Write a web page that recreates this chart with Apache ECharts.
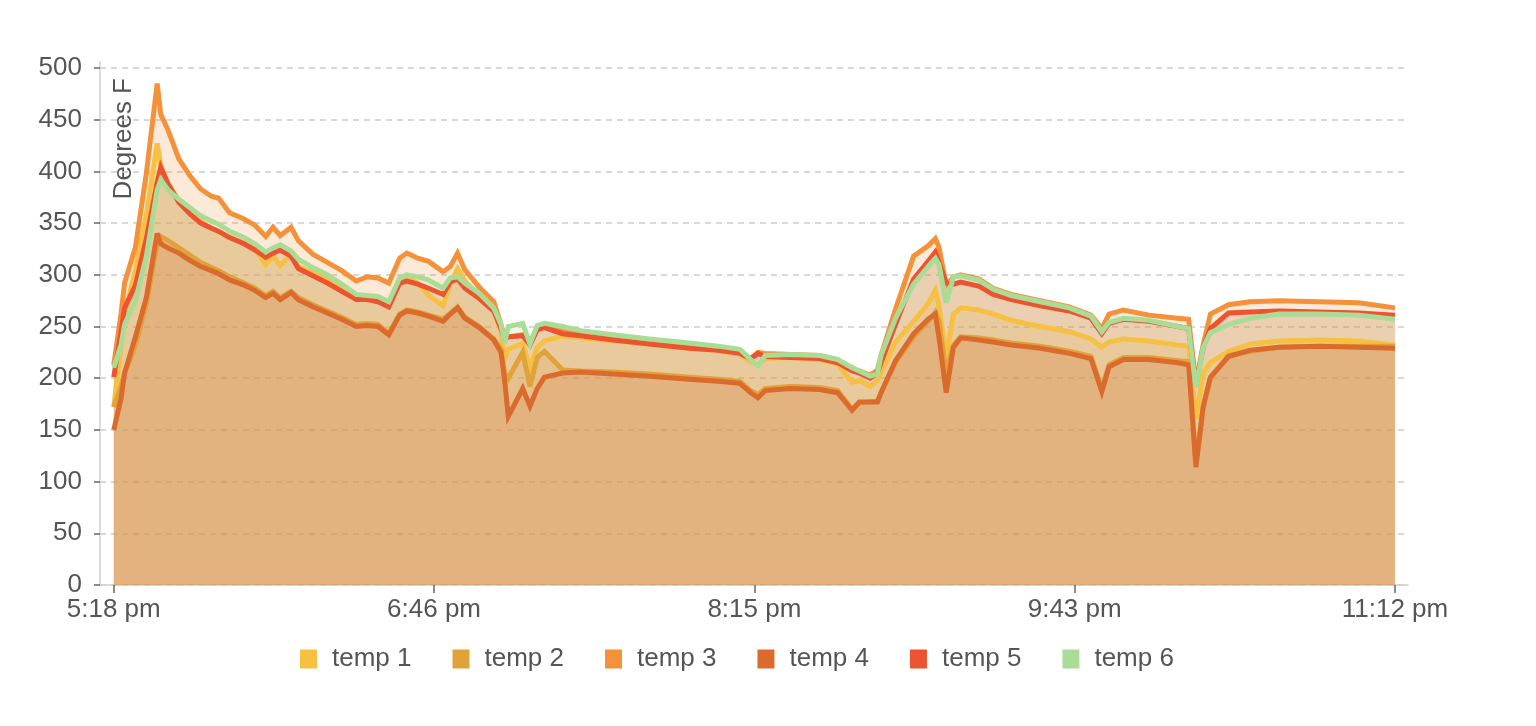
<!DOCTYPE html>
<html>
<head>
<meta charset="utf-8">
<title>temps</title>
<script src="https://cdn.jsdelivr.net/npm/echarts@6.0.0/dist/echarts.min.js"></script>
<style>
    html, body { margin: 0; padding: 0; background: #fff; }
    #chart { width: 1536px; height: 726px; }
</style>
</head>
<body>
<div id="chart"></div>
<script>
// minutes after 5:18 pm
var minutes = [0, 2, 3, 6, 9, 12, 13, 15, 18, 21, 24, 27, 29, 32, 36, 39, 42, 44, 46, 49,
    51, 55, 59, 63, 67, 70, 73, 76, 79, 81, 84, 87, 91, 93, 95, 97, 101, 105, 107, 108,
    109, 113, 115, 117, 119, 124, 129, 138, 148, 159, 167, 173, 176, 178, 180, 187, 195, 200, 204, 206,
    209, 211, 212, 216, 221, 225, 227, 228, 230, 232, 234, 239, 243, 248, 256, 264, 270, 273, 275, 279,
    286, 294, 297, 299, 301, 303, 308, 314, 322, 333, 344, 354];

var temp1 = [172, 232, 262, 305, 358, 427, 405, 388, 372, 361, 352, 345, 342, 336, 331, 325, 310, 318, 309, 320,
    308, 302, 296, 288, 278, 279, 277, 270, 295, 297, 292, 280, 270, 292, 306, 294, 279, 266, 245, 218,
    228, 234, 210, 230, 236, 241, 239, 236, 233, 229, 227, 223, 216, 213, 219, 220, 218, 214, 196, 198,
    192, 198, 205, 235, 255, 272, 285, 270, 220, 262, 268, 266, 262, 256, 250, 245, 238, 230, 235, 238,
    236, 232, 231, 160, 205, 215, 226, 233, 236, 237, 236, 232];

var temp2 = [172, 192, 205, 232, 272, 330, 337, 333, 326, 319, 312, 307, 304, 298, 292, 287, 280, 284, 278, 284,
    278, 271, 265, 259, 252, 253, 252, 243, 262, 266, 264, 261, 257, 263, 269, 259, 250, 238, 228, 205,
    200, 225, 192, 220, 226, 208, 207, 206, 204, 201, 199, 197, 188, 184, 190, 192, 191, 188, 170, 176,
    177, 178, 186, 215, 240, 255, 264, 255, 205, 232, 240, 239, 237, 234, 231, 226, 221, 190, 213, 220,
    220, 217, 216, 118, 172, 200, 222, 226, 230, 231, 231, 231];

var temp3 = [213, 262, 292, 327, 398, 485, 455, 440, 412, 396, 383, 376, 374, 360, 354, 348, 337, 346, 338, 346,
    333, 320, 312, 304, 294, 298, 297, 292, 316, 321, 316, 313, 303, 308, 321, 305, 288, 274, 252, 238,
    240, 242, 235, 248, 251, 246, 243, 239, 236, 232, 230, 226, 219, 225, 224, 223, 222, 218, 210, 207,
    203, 208, 222, 267, 318, 328, 335, 327, 290, 298, 300, 296, 287, 281, 275, 269, 261, 248, 262, 266,
    261, 258, 257, 195, 232, 262, 271, 274, 275, 274, 273, 268];

var temp4 = [150, 180, 205, 240, 278, 340, 330, 326, 321, 314, 308, 304, 301, 295, 290, 285, 278, 282, 276, 283,
    276, 269, 263, 257, 250, 251, 250, 242, 261, 265, 263, 260, 255, 262, 268, 258, 249, 237, 225, 198,
    163, 190, 173, 190, 201, 205, 206, 204, 202, 199, 197, 195, 186, 181, 188, 190, 189, 186, 169, 177,
    177, 177, 186, 217, 243, 257, 262, 240, 186, 230, 239, 237, 235, 232, 229, 224, 219, 187, 211, 218,
    218, 215, 213, 114, 172, 201, 221, 227, 230, 231, 230, 229];

var temp5 = [201, 245, 268, 290, 335, 390, 404, 388, 370, 359, 350, 345, 342, 336, 330, 324, 317, 321, 324, 318,
    306, 299, 292, 284, 276, 276, 274, 269, 292, 294, 291, 287, 281, 293, 296, 287, 277, 265, 248, 238,
    240, 241, 232, 247, 249, 243, 241, 237, 233, 229, 227, 224, 219, 224, 221, 220, 219, 215, 207, 205,
    200, 205, 215, 252, 296, 313, 322, 312, 292, 291, 293, 289, 281, 276, 270, 265, 258, 243, 253, 257,
    255, 250, 248, 193, 230, 248, 263, 264, 265, 264, 263, 261];

var temp6 = [210, 232, 252, 275, 318, 382, 392, 382, 373, 365, 357, 352, 349, 342, 336, 330, 322, 326, 329, 323,
    315, 307, 300, 291, 281, 280, 279, 274, 297, 300, 298, 295, 287, 297, 298, 292, 282, 268, 252, 234,
    250, 253, 233, 251, 253, 250, 246, 242, 238, 234, 231, 228, 218, 212, 222, 223, 222, 218, 210, 207,
    202, 204, 222, 258, 291, 308, 316, 310, 273, 298, 299, 295, 286, 280, 274, 268, 260, 245, 254, 258,
    256, 250, 248, 191, 230, 244, 252, 258, 262, 262, 261, 257];

var seriesNames = ['temp 1', 'temp 2', 'temp 3', 'temp 4', 'temp 5', 'temp 6'];
var seriesColors = ['#f6c143', '#e0a23b', '#f3923a', '#da6b2d', '#ec5331', '#a9dd96'];
var seriesValues = [temp1, temp2, temp3, temp4, temp5, temp6];

var xTicks = [0, 88.5, 177, 265.5, 354];
var yTicks = [0, 50, 100, 150, 200, 250, 300, 350, 400, 450, 500];

function toClock(m) {
    var total = 17 * 60 + 18 + m;
    var h = Math.floor(total / 60);
    var mm = Math.floor(total % 60);
    var h12 = h % 12 || 12;
    return h12 + ':' + (mm < 10 ? '0' : '') + mm + ' ' + (h >= 12 ? 'pm' : 'am');
}

var fontFamily = '"Liberation Sans", Arial, sans-serif';

var chart = echarts.init(document.getElementById('chart'));

var series = seriesValues.map(function (vals, i) {
    return {
        name: seriesNames[i],
        type: 'line',
        data: vals.map(function (v, j) { return [minutes[j], v]; }),
        symbol: 'none',
        showSymbol: false,
        lineStyle: { width: 5, color: seriesColors[i], join: 'miter', miterLimit: 4 },
        itemStyle: { color: seriesColors[i] },
        areaStyle: { color: seriesColors[i], opacity: 0.2 },
        emphasis: { disabled: true }
    };
});

var option = {
    animation: false,
    textStyle: { fontFamily: fontFamily },
    grid: { left: 100, right: 128, top: 62, bottom: 141 },
    legend: {
        data: seriesNames,
        left: 295,
        top: 641,
        icon: 'rect',
        itemWidth: 17,
        itemHeight: 19,
        itemGap: 41,
        textStyle: { fontSize: 26, color: '#555', fontFamily: fontFamily, padding: [0, 0, 0, 10] }
    },
    xAxis: {
        type: 'value',
        min: -3.8,
        max: 357.6,
        axisLine: { onZero: false, lineStyle: { color: '#cfcfcf', width: 1.5 } },
        axisTick: { customValues: xTicks, length: 8, lineStyle: { color: '#666', width: 1.5 } },
        axisLabel: {
            customValues: xTicks,
            formatter: toClock,
            fontSize: 26,
            color: '#555',
            margin: 12,
            fontFamily: fontFamily
        },
        splitLine: { show: false }
    },
    yAxis: {
        type: 'value',
        min: 0,
        max: 505.8,
        axisLine: { show: true, onZero: false, lineStyle: { color: '#cfcfcf', width: 1.5 } },
        axisTick: { show: true, customValues: yTicks, length: 6, lineStyle: { color: '#666', width: 1.5 } },
        axisLabel: { customValues: yTicks, fontSize: 26, color: '#555', margin: 18, fontFamily: fontFamily },
        splitLine: { show: true, lineStyle: { color: '#cccccc', width: 1.5, type: [6, 5] } }
    },
    graphic: [{
        type: 'text',
        x: 124,
        y: 78,
        rotation: Math.PI / 2,
        style: {
            text: 'Degrees F',
            fill: '#555',
            font: '26px ' + fontFamily,
            align: 'right',
            verticalAlign: 'middle'
        }
    }],
    series: series
};

chart.setOption(option);
window.addEventListener('resize', chart.resize);
</script>
</body>
</html>
